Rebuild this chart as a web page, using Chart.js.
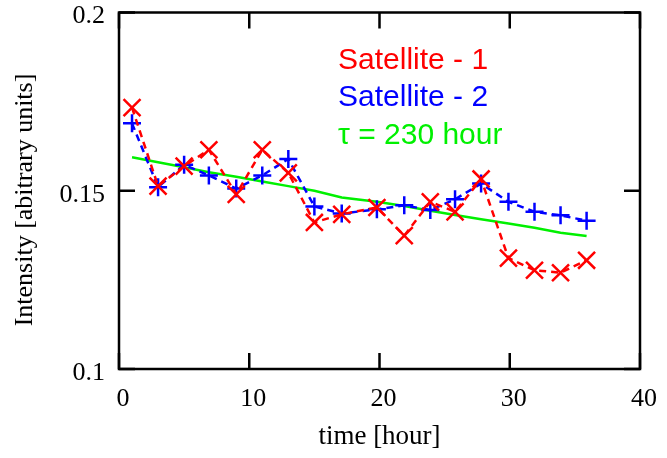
<!DOCTYPE html>
<html>
<head>
<meta charset="utf-8">
<script src="https://cdn.jsdelivr.net/npm/chart.js@4/dist/chart.umd.min.js"></script>
<style>
  html, body { margin: 0; padding: 0; background: #fff; overflow: hidden; }
  /* 2px taller and pulled up so the plot top lands where the label padding would not allow */
  #wrap { width: 667px; height: 460px; margin-top: -2px; }
</style>
</head>
<body>
<div id="wrap"><canvas id="myChart"></canvas></div>
<script>
// time [hour] of each measurement
const times = [1.0, 3.0, 5.0, 6.9, 9.0, 11.0, 13.0, 15.0, 17.1, 19.8, 21.9, 23.9, 25.8, 27.8, 29.9, 31.9, 33.9, 35.9];
const sat1 = [0.1733, 0.1513, 0.1569, 0.1615, 0.1490, 0.1615, 0.1550, 0.1411, 0.1434, 0.1453, 0.1374, 0.1469, 0.1441, 0.1533, 0.1311, 0.1277, 0.1270, 0.1305];
const sat2 = [0.1689, 0.1510, 0.1573, 0.1543, 0.1506, 0.1543, 0.1589, 0.1456, 0.1436, 0.1448, 0.1459, 0.1446, 0.1476, 0.1520, 0.1469, 0.1441, 0.1431, 0.1416];
const fitLine = [0.1594, 0.1580, 0.1566, 0.1552, 0.1539, 0.1526, 0.1513, 0.1500, 0.1481, 0.1469, 0.1457, 0.1444, 0.1432, 0.1420, 0.1408, 0.1396, 0.1382, 0.1373];

const legendLabels = ['Satellite - 1', 'Satellite - 2', '\u03c4 = 230 hour'];
const legendColors = ['#ff0000', '#0000ff', '#00f000'];
const xTicks = [0, 10, 20, 30, 40];
const yTicks = [0.1, 0.15, 0.2];
const yTitle = 'Intensity [abitrary units]';

const serif = '"Liberation Serif", "Times New Roman", serif';

function pts(ys) {
  return times.map((t, i) => ({ x: t, y: ys[i] }))
}

// frame, inward tick marks, y title and the text legend
const framePlugin = {
  id: 'frame',
  afterDraw(chart) {
    const ctx = chart.ctx
    const a = chart.chartArea
    const xs = chart.scales.x
    const ys = chart.scales.y
    ctx.save()
    ctx.strokeStyle = '#000'
    ctx.lineWidth = 2.5
    ctx.strokeRect(a.left, a.top, a.right - a.left, a.bottom - a.top)
    const len = 16
    ctx.beginPath()
    xTicks.forEach(v => {
      const px = xs.getPixelForValue(v)
      ctx.moveTo(px, a.bottom); ctx.lineTo(px, a.bottom - len)
      ctx.moveTo(px, a.top); ctx.lineTo(px, a.top + len)
    })
    yTicks.forEach(v => {
      const py = ys.getPixelForValue(v)
      ctx.moveTo(a.left, py); ctx.lineTo(a.left + len, py)
      ctx.moveTo(a.right, py); ctx.lineTo(a.right - len, py)
    })
    ctx.stroke()

    // y axis title
    ctx.save()
    ctx.translate(25, 202)
    ctx.rotate(-Math.PI / 2)
    ctx.fillStyle = '#000'
    ctx.font = '26px ' + serif
    ctx.textAlign = 'center'
    ctx.textBaseline = 'middle'
    ctx.fillText(yTitle, 0, 0)
    ctx.restore()

    ctx.font = '30px "Liberation Sans", Arial, sans-serif'
    ctx.textAlign = 'left'
    ctx.textBaseline = 'alphabetic'
    legendLabels.forEach((txt, i) => {
      ctx.fillStyle = legendColors[i]
      ctx.fillText(txt, a.left + 219, a.top + 56 + i * 37.5)
    })
    ctx.restore()
  }
}

const ctx = document.getElementById('myChart').getContext('2d')

const config = {
  type: 'scatter',
  data: {
    datasets: [{
      label: legendLabels[0],
      data: pts(sat1),
      showLine: true,
      borderColor: '#ff0000',
      backgroundColor: '#ff0000',
      borderWidth: 2.5,
      borderDash: [7, 5],
      pointStyle: 'crossRot',
      pointRadius: 12,
      pointBorderWidth: 2.5,
      pointBorderColor: '#ff0000'
    }, {
      label: legendLabels[1],
      data: pts(sat2),
      showLine: true,
      borderColor: '#0000ff',
      backgroundColor: '#0000ff',
      borderWidth: 2.5,
      borderDash: [7, 5],
      pointStyle: 'cross',
      pointRadius: 9,
      pointBorderWidth: 2.5,
      pointBorderColor: '#0000ff'
    }, {
      label: legendLabels[2],
      data: pts(fitLine),
      showLine: true,
      borderColor: '#00f000',
      borderWidth: 2.5,
      pointRadius: 0
    }]
  },
  options: {
    responsive: true,
    maintainAspectRatio: false,
    animation: false,
    layout: { padding: { top: 11, right: 27, left: 0, bottom: 0 } },
    plugins: {
      legend: { display: false },
      tooltip: { enabled: false }
    },
    scales: {
      x: {
        type: 'linear',
        min: 0,
        max: 40,
        afterBuildTicks: s => { s.ticks = xTicks.map(v => ({ value: v })) },
        afterFit: s => { s.height = 89; s.paddingLeft = 0; s.paddingRight = 0 },
        grid: { display: false, drawTicks: false },
        border: { display: false },
        ticks: {
          padding: 15,
          labelOffset: 4,
          maxRotation: 0,
          color: '#000',
          font: { family: serif, size: 26 }
        },
        title: {
          display: true,
          text: 'time [hour]',
          color: '#000',
          padding: { top: 4, bottom: 5 },
          font: { family: serif, size: 27 }
        }
      },
      y: {
        type: 'linear',
        min: 0.1,
        max: 0.2,
        afterBuildTicks: s => { s.ticks = yTicks.map(v => ({ value: v })) },
        afterFit: s => { s.width = 119; s.paddingTop = 0; s.paddingBottom = 0 },
        grid: { display: false, drawTicks: false },
        border: { display: false },
        ticks: {
          padding: 14,
          labelOffset: 4,
          color: '#000',
          font: { family: serif, size: 26, lineHeight: 0.6 },
          callback: v => String(v)
        },
        title: { display: false }
      }
    }
  },
  plugins: [framePlugin]
}

const myChart = new Chart(ctx, config)
</script>
</body>
</html>
